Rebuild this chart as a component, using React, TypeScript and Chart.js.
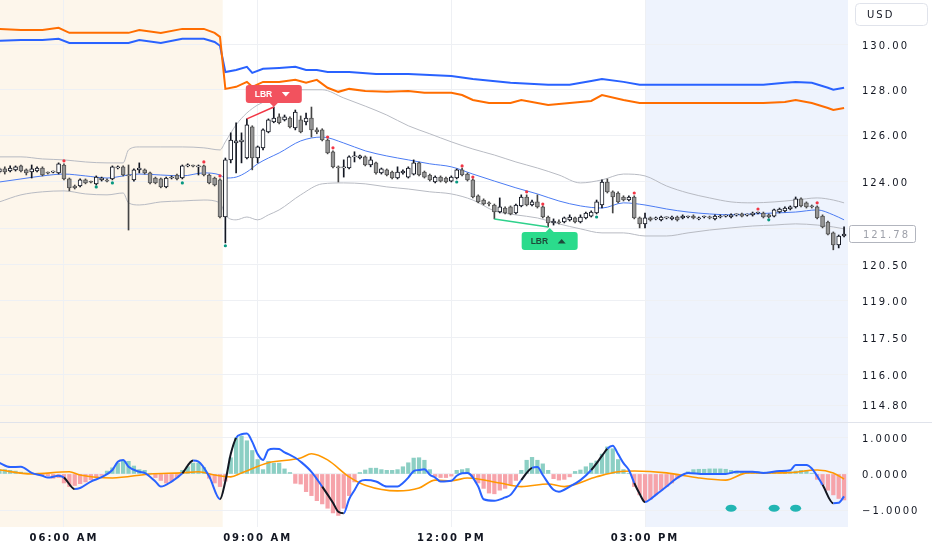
import React, { useEffect, useRef } from 'react';
import { Chart, registerables } from 'chart.js';

Chart.register(...registerables);

// ---------------- data ----------------
const timeTickIndex = [12, 48, 84, 120];
const timeTickLabels = ['06:00 AM', '09:00 AM', '12:00 PM', '03:00 PM'];
const priceTicks = [130, 128, 126, 124, 122, 120.5, 119, 117.5, 116, 114.8];
const macdTicks = [1, 0, -1];

// 5-minute candles, 05:00 -> 18:05
const opens = [
  124.42, 124.55, 124.46, 124.51, 124.68, 124.51, 124.42, 124.46, 124.59, 124.38,
  124.41, 124.38, 124.72, 124.12, 123.82, 123.82, 124.08, 123.99, 123.91, 124.08,
  124.04, 124.12, 124.59, 124.64, 124.29, 124.08, 124.51, 124.51, 124.38, 124.16,
  124.12, 123.78, 124.16, 124.29, 124.16, 124.68, 124.68, 124.64, 124.68, 124.29,
  124.16, 124.08, 122.50, 124.94, 125.67, 125.72, 125.02, 126.37, 125.02, 125.46,
  126.15, 126.59, 126.81, 126.68, 126.76, 126.33, 126.68, 126.59, 126.76, 126.24,
  126.24, 125.80, 125.29, 124.64, 124.59, 124.59, 125.07, 125.02, 125.07, 124.72,
  124.81, 124.38, 124.51, 124.42, 124.16, 124.38, 124.20, 124.33, 124.81, 124.42,
  124.29, 123.99, 124.20, 124.16, 124.03, 124.16, 124.51, 124.33, 124.08, 123.40,
  123.22, 123.10, 123.01, 122.71, 122.88, 122.93, 122.67, 122.97, 123.35, 123.01,
  123.14, 122.93, 122.50, 122.25, 122.29, 122.29, 122.38, 122.46, 122.29, 122.46,
  122.54, 122.67, 123.01, 123.99, 123.57, 123.52, 123.35, 123.22, 123.35, 122.46,
  122.21, 122.46, 122.42, 122.38, 122.46, 122.42, 122.50, 122.46, 122.50, 122.54,
  122.42, 122.50, 122.50, 122.42, 122.50, 122.54, 122.50, 122.59, 122.63, 122.58,
  122.59, 122.67, 122.67, 122.59, 122.54, 122.71, 122.76, 122.84, 122.93, 123.27,
  123.10, 122.97, 122.93, 122.54, 122.29, 121.83, 121.33, 121.70,
];
const highs = [
  124.59, 124.64, 124.68, 124.68, 124.72, 124.55, 124.72, 124.64, 124.64, 124.42,
  124.46, 124.81, 124.77, 124.16, 123.86, 124.12, 124.12, 124.03, 124.25, 124.20,
  124.12, 124.68, 124.68, 124.68, 124.72, 124.55, 124.81, 124.55, 124.42, 124.20,
  124.16, 124.20, 124.25, 124.33, 124.72, 124.77, 124.72, 124.72, 124.72, 124.33,
  124.20, 124.12, 125.02, 126.11, 126.55, 126.11, 126.72, 126.42, 125.54, 126.29,
  126.72, 127.24, 126.94, 126.89, 126.81, 127.11, 126.85, 126.98, 127.24, 126.33,
  126.29, 125.85, 125.33, 124.68, 124.94, 125.11, 125.29, 125.15, 125.11, 125.07,
  124.85, 124.59, 124.55, 124.46, 124.64, 124.51, 124.64, 124.94, 124.85, 124.46,
  124.33, 124.25, 124.25, 124.20, 124.25, 124.55, 124.59, 124.38, 124.12, 123.44,
  123.27, 123.14, 123.05, 123.31, 122.93, 122.97, 123.05, 123.44, 123.44, 123.22,
  123.44, 122.97, 122.54, 122.42, 122.38, 122.50, 122.59, 122.50, 122.59, 122.71,
  122.76, 123.22, 124.08, 124.12, 123.61, 123.57, 123.40, 123.40, 123.40, 122.50,
  122.67, 122.50, 122.50, 122.54, 122.50, 122.54, 122.54, 122.59, 122.54, 122.59,
  122.50, 122.54, 122.54, 122.59, 122.59, 122.59, 122.63, 122.63, 122.67, 122.63,
  122.71, 122.71, 122.71, 122.63, 122.84, 122.88, 122.93, 122.97, 123.35, 123.31,
  123.14, 123.01, 122.97, 122.59, 122.33, 121.87, 121.74, 122.08,
];
const lows = [
  124.38, 124.33, 124.42, 124.46, 124.42, 124.29, 124.16, 124.42, 124.25, 124.33,
  124.38, 124.33, 124.08, 123.61, 123.69, 123.78, 123.91, 123.95, 123.86, 124.03,
  123.99, 124.08, 124.55, 124.25, 121.95, 124.03, 124.38, 124.33, 123.91, 123.91,
  123.74, 123.74, 124.12, 124.08, 124.12, 124.64, 124.64, 124.29, 124.25, 123.91,
  123.82, 122.46, 121.41, 124.81, 124.38, 124.81, 124.98, 124.51, 124.81, 125.37,
  126.11, 126.55, 126.50, 126.63, 126.33, 126.24, 126.11, 126.46, 125.93, 126.07,
  125.76, 125.20, 124.59, 123.99, 124.20, 124.55, 124.85, 124.98, 124.68, 124.64,
  124.33, 124.33, 124.25, 124.12, 124.12, 124.33, 124.16, 124.29, 124.25, 124.16,
  124.03, 123.95, 123.99, 123.95, 123.99, 124.12, 124.25, 124.03, 123.31, 123.10,
  123.01, 122.97, 122.42, 122.67, 122.63, 122.59, 122.63, 122.93, 122.97, 122.97,
  122.88, 122.46, 122.08, 122.16, 122.21, 122.25, 122.33, 122.25, 122.25, 122.42,
  122.50, 122.63, 122.88, 123.52, 122.67, 123.10, 123.18, 123.18, 122.42, 122.04,
  122.04, 122.33, 122.38, 122.33, 122.42, 122.38, 122.33, 122.42, 122.46, 122.42,
  122.38, 122.46, 122.42, 122.38, 122.46, 122.50, 122.46, 122.54, 122.50, 122.54,
  122.54, 122.63, 122.46, 122.46, 122.50, 122.67, 122.71, 122.80, 122.88, 122.93,
  122.88, 122.88, 122.42, 122.04, 121.74, 121.12, 121.20, 121.66,
];
const closes = [
  124.55, 124.42, 124.59, 124.64, 124.46, 124.38, 124.55, 124.59, 124.29, 124.37,
  124.42, 124.77, 124.12, 123.74, 123.74, 124.08, 123.95, 123.98, 124.20, 124.16,
  124.03, 124.64, 124.64, 124.29, 124.25, 124.51, 124.59, 124.38, 123.95, 123.95,
  123.78, 124.16, 124.20, 124.12, 124.68, 124.72, 124.67, 124.68, 124.29, 123.95,
  123.86, 122.50, 124.94, 125.80, 125.76, 125.80, 126.46, 125.02, 125.50, 126.24,
  126.68, 126.76, 126.55, 126.81, 126.37, 127.02, 126.15, 126.76, 126.24, 126.15,
  125.80, 125.24, 124.64, 124.59, 124.64, 125.07, 125.11, 125.11, 124.72, 124.94,
  124.38, 124.55, 124.29, 124.16, 124.42, 124.46, 124.59, 124.81, 124.29, 124.20,
  124.08, 124.20, 124.03, 123.99, 124.20, 124.51, 124.29, 124.08, 123.35, 123.14,
  123.05, 123.05, 122.71, 122.93, 122.67, 122.63, 123.01, 123.35, 123.01, 123.14,
  122.93, 122.50, 122.25, 122.33, 122.25, 122.46, 122.50, 122.29, 122.50, 122.67,
  122.71, 123.14, 123.99, 123.57, 123.35, 123.14, 123.22, 123.35, 122.46, 122.21,
  122.46, 122.38, 122.46, 122.50, 122.47, 122.50, 122.38, 122.54, 122.51, 122.46,
  122.46, 122.51, 122.46, 122.54, 122.54, 122.55, 122.59, 122.60, 122.54, 122.59,
  122.67, 122.68, 122.50, 122.50, 122.80, 122.84, 122.88, 122.93, 123.27, 122.97,
  122.93, 122.93, 122.46, 122.08, 121.78, 121.33, 121.70, 121.78,
];

// Bollinger-type bands (sampled at bar indices)
const bandIdx = [0, 4, 8, 12, 16, 20, 23, 24, 26, 30, 34, 38, 41, 42, 44, 46, 48, 50, 52, 56, 60, 64, 68, 72, 76, 80, 84, 88, 92, 96, 100, 104, 108, 112, 116, 120, 124, 128, 132, 136, 140, 144, 148, 152, 155, 157];
const upperBand = [125.07, 125.07, 124.98, 124.94, 124.85, 124.81, 124.81, 125.37, 125.50, 125.50, 125.50, 125.46, 125.37, 125.72, 126.46, 126.98, 127.33, 127.55, 127.77, 128.00, 128.00, 127.64, 127.28, 126.89, 126.42, 126.07, 125.72, 125.41, 125.15, 124.85, 124.59, 124.29, 123.95, 124.08, 124.33, 124.25, 123.82, 123.52, 123.31, 123.14, 123.10, 123.14, 123.22, 123.31, 123.22, 123.10];
const middleBand = [123.99, 124.12, 124.25, 124.33, 124.25, 124.16, 124.25, 124.29, 124.33, 124.29, 124.25, 124.38, 124.29, 124.16, 124.20, 124.42, 124.77, 125.02, 125.24, 125.76, 125.93, 125.67, 125.33, 125.11, 124.94, 124.77, 124.64, 124.33, 124.03, 123.74, 123.48, 123.18, 122.97, 122.88, 123.10, 123.01, 122.84, 122.71, 122.63, 122.59, 122.63, 122.67, 122.71, 122.80, 122.59, 122.38];
const lowerBand = [123.14, 123.44, 123.57, 123.61, 123.48, 123.44, 123.52, 123.10, 123.01, 123.14, 123.18, 123.22, 123.10, 122.59, 122.38, 122.50, 122.38, 122.59, 122.80, 123.44, 123.91, 123.95, 123.91, 123.78, 123.69, 123.57, 123.48, 123.22, 122.76, 122.59, 122.46, 122.21, 122.00, 121.83, 121.83, 121.70, 121.70, 121.83, 121.95, 122.04, 122.12, 122.16, 122.21, 122.16, 122.08, 122.00];

// upper orange / blue indicator lines
const orangeIdx = [0, 4, 8, 11, 13, 16, 20, 24, 26, 30, 34, 38, 40, 41, 42, 44, 46, 47, 49, 52, 55, 57, 59, 61, 63, 65, 68, 72, 76, 79, 84, 86, 88, 91, 95, 97, 102, 106, 110, 112, 116, 119, 124, 130, 136, 142, 146, 148, 151, 154, 155, 157];
const orangeLine = [130.72, 130.67, 130.67, 130.77, 130.54, 130.54, 130.54, 130.54, 130.67, 130.54, 130.72, 130.72, 130.54, 130.36, 128.04, 128.13, 128.35, 128.13, 128.35, 128.35, 128.44, 128.31, 128.44, 128.09, 127.91, 128.04, 127.95, 127.91, 127.95, 127.87, 127.87, 127.77, 127.55, 127.42, 127.42, 127.55, 127.33, 127.42, 127.51, 127.77, 127.55, 127.42, 127.42, 127.42, 127.42, 127.42, 127.46, 127.55, 127.42, 127.20, 127.11, 127.20];
const blueIdx = [0, 4, 8, 11, 13, 16, 20, 24, 26, 30, 34, 38, 40, 41, 42, 44, 46, 47, 49, 52, 55, 57, 59, 61, 65, 70, 76, 84, 88, 95, 102, 106, 110, 112, 116, 119, 124, 130, 136, 142, 146, 148, 151, 154, 155, 157];
const blueLine = [130.18, 130.22, 130.22, 130.27, 130.09, 130.09, 130.09, 130.09, 130.22, 130.09, 130.27, 130.27, 130.13, 129.96, 128.79, 128.88, 129.02, 128.75, 128.93, 128.97, 129.02, 128.88, 128.88, 128.79, 128.79, 128.70, 128.70, 128.61, 128.48, 128.31, 128.22, 128.22, 128.39, 128.48, 128.35, 128.22, 128.22, 128.22, 128.22, 128.22, 128.31, 128.35, 128.31, 128.09, 128.00, 128.09];

// small signal dots
const redMarkIdx = [12, 38, 41, 61, 62, 86, 88, 98, 101, 118, 141, 152];
const redMarkPrice = [124.90, 124.85, 124.25, 125.93, 125.46, 124.68, 124.20, 123.57, 123.05, 123.52, 122.84, 123.10];
const greenMarkIdx = [18, 21, 34, 42, 85, 111, 143];
const greenMarkPrice = [123.78, 123.95, 123.95, 121.29, 123.99, 122.50, 122.38];

// LBR divergence annotations
const lbrBearIdx = [46, 51];
const lbrBearPrice = [126.72, 127.24];
const lbrBullIdx = [92, 102];
const lbrBullPrice = [122.42, 122.08];

// MACD pane
const histogram = [
  0.12, 0.12, 0.10, 0.08, 0.05, 0.03, 0.02, 0.02, -0.02, -0.05,
  -0.12, -0.10, -0.25, -0.35, -0.32, -0.27, -0.22, -0.16, -0.10, -0.04,
  0.08, 0.17, 0.30, 0.37, 0.35, 0.22, 0.12, 0.10, 0.02, -0.10,
  -0.18, -0.25, -0.20, -0.10, 0.10, 0.20, 0.30, 0.30, 0.18, -0.12,
  -0.25, -0.35, -0.20, 0.45, 1.00, 1.05, 0.92, 0.65, 0.40, 0.12,
  0.35, 0.30, 0.30, 0.14, 0.04, -0.26, -0.28, -0.49, -0.60, -0.74,
  -0.83, -0.95, -1.08, -1.15, -0.95, -0.60, -0.22, 0.04, 0.11, 0.16,
  0.16, 0.12, 0.10, 0.10, 0.12, 0.20, 0.31, 0.44, 0.45, 0.38,
  0.12, -0.07, -0.10, -0.10, -0.06, 0.10, 0.12, 0.15, -0.10, -0.25,
  -0.40, -0.53, -0.55, -0.45, -0.40, -0.30, -0.18, 0.10, 0.38, 0.46,
  0.38, 0.28, 0.10, -0.13, -0.17, -0.15, -0.08, 0.07, 0.11, 0.20,
  0.30, 0.36, 0.55, 0.75, 0.70, 0.40, 0.12, 0.02, -0.35, -0.58,
  -0.76, -0.70, -0.58, -0.45, -0.35, -0.25, -0.12, -0.05, 0.06, 0.12,
  0.13, 0.13, 0.14, 0.14, 0.14, 0.13, 0.10, 0.08, 0.06, 0.06,
  0.06, 0.06, 0.05, 0.05, 0.06, 0.06, 0.07, 0.06, 0.08, 0.10,
  0.10, 0.02, -0.15, -0.30, -0.45, -0.58, -0.68, -0.72,
];
const macdIdx = [0, 2, 4, 6, 8, 9, 11, 12, 14, 15, 17, 19, 21, 22, 23, 24, 26, 27, 29, 30, 32, 34, 36, 37, 39, 41, 42, 43, 44, 45, 46, 47, 48, 49, 50, 51, 52, 53, 54, 55, 56, 58, 60, 62, 63, 64, 65, 66, 67, 68, 70, 72, 74, 75, 76, 77, 78, 79, 80, 81, 82, 84, 85, 86, 87, 89, 90, 92, 94, 95, 97, 99, 100, 101, 103, 104, 106, 108, 110, 112, 113, 114, 115, 116, 117, 118, 119, 120, 121, 122, 124, 126, 128, 131, 135, 137, 140, 142, 145, 147, 148, 150, 151, 153, 155, 156, 157];
const macdLine = [0.31, 0.19, 0.20, 0.03, -0.05, -0.10, -0.05, -0.10, -0.42, -0.39, -0.21, -0.09, 0.11, 0.34, 0.39, 0.20, 0.06, 0.03, -0.21, -0.35, -0.21, 0.02, 0.37, 0.34, -0.07, -0.70, -0.20, 0.55, 1.00, 1.10, 1.12, 0.89, 0.55, 0.39, 0.67, 0.70, 0.69, 0.60, 0.53, 0.45, 0.34, 0.06, -0.35, -0.80, -1.05, -1.09, -0.70, -0.45, -0.21, -0.17, -0.21, -0.35, -0.35, -0.25, -0.10, 0.08, 0.11, 0.13, -0.02, -0.10, -0.21, -0.19, -0.05, 0.02, 0.03, -0.35, -0.70, -0.74, -0.65, -0.58, -0.17, 0.17, 0.19, -0.03, -0.44, -0.49, -0.35, -0.17, 0.11, 0.50, 0.70, 0.78, 0.55, 0.30, 0.11, -0.25, -0.55, -0.78, -0.70, -0.58, -0.35, -0.11, 0.03, 0.00, 0.00, 0.06, 0.06, 0.03, 0.08, 0.10, 0.25, 0.25, 0.15, -0.30, -0.81, -0.80, -0.62];
const signalIdx = [0, 6, 13, 15, 21, 28, 34, 37, 40, 43, 45, 50, 56, 58, 61, 65, 68, 74, 78, 81, 84, 87, 93, 97, 102, 105, 111, 115, 118, 124, 130, 135, 139, 146, 152, 155, 157];
const signalLine = [0.11, 0.0, 0.06, -0.03, -0.11, 0.0, 0.03, 0.06, -0.03, -0.08, 0.03, 0.31, 0.44, 0.56, 0.39, -0.08, -0.31, -0.47, -0.39, -0.17, -0.19, -0.11, -0.25, -0.35, -0.28, -0.35, -0.08, 0.06, 0.08, 0.03, -0.11, -0.17, 0.03, 0.03, 0.11, 0.03, -0.14];
const macdBlackRanges = [[12, 14], [34, 36], [41, 44], [60, 64], [97, 99], [110, 113], [118, 120], [153, 155]];
const macdDotIdx = [136, 144, 148];
const macdDotValue = [-0.95, -0.95, -0.95];

// ---------------- styling constants ----------------
const preMarketEnd = 41.5;
const postMarketStart = 120;
const xMin = 0.11;
const xMax = 157.73;
const priceMin = 114.13;
const priceMax = 132.03;
const macdMin = -1.47;
const macdMax = 1.44;
const gridColor = '#eef0f4';
const textColor = '#131722';
const FONT = "'DejaVu Sans', sans-serif";

const pts = (ix: number[], vals: number[]) => ix.map((x, k) => ({ x, y: vals[k] }));

export default function App() {
  const ref = useRef<HTMLCanvasElement | null>(null);

  useEffect(() => {
    document.body.style.margin = '0';
    const canvas = ref.current;
    if (!canvas) return;

    const idx = opens.map((_, i) => i);
    const isUp = idx.map((i) => closes[i] > opens[i]);
    const bodyData = idx.map((i) => ({ x: i, y: [opens[i], closes[i]] }));
    const wickData = idx.map((i) => ({ x: i, y: [lows[i], highs[i]] }));
    const histData = idx.map((i) => ({ x: i, y: histogram[i] }));

    const drawLbr = (ctx: any, cx: number, tipY: number, bear: boolean) => {
      const w = 56;
      const h = 18;
      const top = bear ? tipY - 4 - h : tipY + 5;
      ctx.save();
      ctx.letterSpacing = '0px';
      ctx.fillStyle = bear ? '#f2525e' : '#2bdb8c';
      ctx.beginPath();
      ctx.roundRect(cx - w / 2, top, w, h, 3);
      ctx.fill();
      ctx.beginPath();
      if (bear) {
        ctx.moveTo(cx - 4, top + h);
        ctx.lineTo(cx + 4, top + h);
        ctx.lineTo(cx, top + h + 4);
      } else {
        ctx.moveTo(cx - 4, top);
        ctx.lineTo(cx + 4, top);
        ctx.lineTo(cx, top - 4);
      }
      ctx.closePath();
      ctx.fill();
      const tc = bear ? '#ffffff' : '#1d4a3a';
      ctx.fillStyle = tc;
      ctx.font = `bold 8.5px 'Liberation Sans', sans-serif`;
      ctx.textAlign = 'left';
      ctx.textBaseline = 'middle';
      ctx.fillText('LBR', cx - 19, top + h / 2 + 0.5);
      const tx = cx + 12;
      const ty = top + h / 2;
      ctx.beginPath();
      if (bear) {
        ctx.moveTo(tx - 4, ty - 2);
        ctx.lineTo(tx + 4, ty - 2);
        ctx.lineTo(tx, ty + 2.5);
      } else {
        ctx.moveTo(tx - 4, ty + 2.5);
        ctx.lineTo(tx + 4, ty + 2.5);
        ctx.lineTo(tx, ty - 2);
      }
      ctx.closePath();
      ctx.fill();
      ctx.restore();
    };

    const decor = {
      id: 'decor',
      beforeDraw(chart: any) {
        const { ctx, chartArea: a, scales } = chart;
        const sx = scales.x;
        ctx.save();
        const preX = sx.getPixelForValue(preMarketEnd);
        ctx.fillStyle = '#fdf6eb';
        ctx.fillRect(a.left, a.top, preX - a.left, a.bottom - a.top);
        const postX = sx.getPixelForValue(postMarketStart);
        ctx.fillStyle = '#eef3fd';
        ctx.fillRect(postX, a.top, a.right - postX, a.bottom - a.top);
        ctx.restore();
        ctx.letterSpacing = '2px';
      },
      afterDatasetsDraw(chart: any) {
        const { ctx, scales } = chart;
        const sx = scales.x;
        const sy = scales.y;
        const s2 = scales.y2;
        ctx.save();
        ctx.fillStyle = '#22b5b3';
        macdDotIdx.forEach((i, k) => {
          ctx.beginPath();
          ctx.ellipse(sx.getPixelForValue(i), s2.getPixelForValue(macdDotValue[k]), 5.5, 3.5, 0, 0, Math.PI * 2);
          ctx.fill();
        });
        ctx.lineWidth = 1.5;
        ctx.strokeStyle = '#f23645';
        ctx.beginPath();
        ctx.moveTo(sx.getPixelForValue(lbrBearIdx[0]), sy.getPixelForValue(lbrBearPrice[0]));
        ctx.lineTo(sx.getPixelForValue(lbrBearIdx[1]), sy.getPixelForValue(lbrBearPrice[1]));
        ctx.stroke();
        ctx.strokeStyle = '#2ed18c';
        ctx.beginPath();
        ctx.moveTo(sx.getPixelForValue(lbrBullIdx[0]), sy.getPixelForValue(lbrBullPrice[0]));
        ctx.lineTo(sx.getPixelForValue(lbrBullIdx[1]), sy.getPixelForValue(lbrBullPrice[1]));
        ctx.stroke();
        ctx.restore();
        drawLbr(ctx, sx.getPixelForValue(lbrBearIdx[1]), sy.getPixelForValue(lbrBearPrice[1]), true);
        drawLbr(ctx, sx.getPixelForValue(lbrBullIdx[1]) + 1.5, sy.getPixelForValue(lbrBullPrice[1]), false);
      },
      afterDraw(chart: any) {
        const { ctx, scales, width } = chart;
        const sy = scales.y;
        ctx.save();
        ctx.strokeStyle = '#e0e3eb';
        ctx.lineWidth = 1;
        ctx.beginPath();
        ctx.moveTo(0, Math.round(sy.bottom) + 0.5);
        ctx.lineTo(width, Math.round(sy.bottom) + 0.5);
        ctx.stroke();
        ctx.letterSpacing = '2px';
        ctx.font = `10px ${FONT}`;
        ctx.textBaseline = 'middle';
        ctx.textAlign = 'left';
        const last = closes[closes.length - 1];
        const py = Math.round(sy.getPixelForValue(last));
        ctx.fillStyle = '#ffffff';
        ctx.strokeStyle = '#b2b5be';
        ctx.beginPath();
        ctx.roundRect(sy.left + 1.5, py - 8.5, 66, 17, 2);
        ctx.fill();
        ctx.stroke();
        ctx.fillStyle = '#9ea1aa';
        ctx.fillText(last.toFixed(2), sy.left + 15, py + 1);
        ctx.strokeStyle = '#e0e3eb';
        ctx.fillStyle = '#ffffff';
        ctx.beginPath();
        ctx.roundRect(sy.left + 7.5, 3.5, 72, 22, 4);
        ctx.fill();
        ctx.stroke();
        ctx.fillStyle = textColor;
        ctx.fillText('USD', sy.left + 19, 15);
        ctx.restore();
        ctx.letterSpacing = '0px';
      },
    };

    const chart = new Chart(canvas, {
      type: 'bar',
      data: {
        datasets: [
          {
            type: 'line',
            data: pts(redMarkIdx, redMarkPrice),
            yAxisID: 'y',
            showLine: false,
            pointRadius: 1.6,
            pointBorderWidth: 0,
            pointBackgroundColor: '#f23645',
            order: 0,
          } as any,
          {
            type: 'line',
            data: pts(greenMarkIdx, greenMarkPrice),
            yAxisID: 'y',
            showLine: false,
            pointRadius: 1.6,
            pointBorderWidth: 0,
            pointBackgroundColor: '#089981',
            order: 0,
          } as any,
          {
            type: 'bar',
            data: bodyData,
            yAxisID: 'y',
            grouped: false,
            barThickness: 4,
            minBarLength: 1,
            borderWidth: 1,
            borderSkipped: false,
            backgroundColor: isUp.map((u) => (u ? '#ffffff' : '#969696')),
            borderColor: isUp.map((u) => (u ? '#131722' : '#555555')),
            order: 1,
          } as any,
          {
            type: 'bar',
            data: wickData,
            yAxisID: 'y',
            grouped: false,
            barThickness: 1,
            borderWidth: 0,
            backgroundColor: isUp.map((u) => (u ? '#131722' : '#444444')),
            order: 2,
          } as any,
          {
            type: 'line',
            data: pts(orangeIdx, orangeLine),
            yAxisID: 'y',
            borderColor: '#ff6d00',
            borderWidth: 2,
            pointRadius: 0,
            tension: 0,
            order: 3,
          } as any,
          {
            type: 'line',
            data: pts(blueIdx, blueLine),
            yAxisID: 'y',
            borderColor: '#2962ff',
            borderWidth: 2,
            pointRadius: 0,
            tension: 0,
            order: 3,
          } as any,
          {
            type: 'line',
            data: pts(bandIdx, middleBand),
            yAxisID: 'y',
            borderColor: '#4c7cf3',
            borderWidth: 1,
            pointRadius: 0,
            cubicInterpolationMode: 'monotone',
            order: 4,
          } as any,
          {
            type: 'line',
            data: pts(bandIdx, upperBand),
            yAxisID: 'y',
            borderColor: '#b8bbc3',
            borderWidth: 1,
            pointRadius: 0,
            cubicInterpolationMode: 'monotone',
            order: 5,
          } as any,
          {
            type: 'line',
            data: pts(bandIdx, lowerBand),
            yAxisID: 'y',
            borderColor: '#b8bbc3',
            borderWidth: 1,
            pointRadius: 0,
            cubicInterpolationMode: 'monotone',
            order: 5,
          } as any,
          {
            type: 'line',
            data: pts(macdIdx, macdLine),
            yAxisID: 'y2',
            borderColor: '#2962ff',
            borderWidth: 2,
            pointRadius: 0,
            cubicInterpolationMode: 'monotone',
            segment: {
              borderColor: (c: any) =>
                macdBlackRanges.some(([a, b]) => c.p0.parsed.x >= a && c.p1.parsed.x <= b) ? '#131722' : '#2962ff',
            },
            order: 6,
          } as any,
          {
            type: 'line',
            data: pts(signalIdx, signalLine),
            yAxisID: 'y2',
            borderColor: '#ff9800',
            borderWidth: 1.6,
            pointRadius: 0,
            cubicInterpolationMode: 'monotone',
            order: 7,
          } as any,
          {
            type: 'bar',
            data: histData,
            yAxisID: 'y2',
            grouped: false,
            barThickness: 3.6,
            borderWidth: 0,
            backgroundColor: histogram.map((v) => (v >= 0 ? '#8ccfc4' : '#f6a3aa')),
            order: 8,
          } as any,
        ],
      },
      options: {
        responsive: false,
        animation: false,
        events: [],
        layout: { padding: 0, autoPadding: false },
        font: { family: FONT },
        plugins: { legend: { display: false }, tooltip: { enabled: false } },
        scales: {
          x: {
            type: 'linear',
            min: xMin,
            max: xMax,
            bounds: 'data',
            offset: false,
            grid: { color: gridColor, drawTicks: false, offset: false },
            border: { display: false },
            ticks: {
              autoSkip: false,
              maxRotation: 0,
              padding: 5,
              color: textColor,
              font: { family: FONT, size: 10, weight: 'bold' },
              callback: (v: any) => {
                const k = timeTickIndex.indexOf(Number(v));
                return k >= 0 ? timeTickLabels[k] : '';
              },
            },
            afterBuildTicks: (s: any) => {
              s.ticks = timeTickIndex.map((v) => ({ value: v }));
            },
            afterFit: (s: any) => {
              s.height = 23;
              s.paddingLeft = 0;
              s.paddingRight = 0;
            },
          },
          y: {
            type: 'logarithmic',
            position: 'right',
            stack: 'panes',
            stackWeight: 422,
            min: priceMin,
            max: priceMax,
            bounds: 'data',
            grid: { color: gridColor, drawTicks: false },
            border: { display: false },
            ticks: {
              autoSkip: false,
              padding: 14,
              labelOffset: 1.5,
              color: textColor,
              font: { family: FONT, size: 10 },
              callback: (v: any) => Number(v).toFixed(2),
            },
            afterBuildTicks: (s: any) => {
              s.ticks = priceTicks.map((v) => ({ value: v }));
            },
            afterFit: (s: any) => {
              s.width = 84;
              s.paddingTop = 0;
              s.paddingBottom = 0;
            },
          },
          y2: {
            type: 'linear',
            position: 'right',
            stack: 'panes',
            stackWeight: 105,
            min: macdMin,
            max: macdMax,
            bounds: 'data',
            grid: { color: gridColor, drawTicks: false },
            border: { display: false },
            ticks: {
              autoSkip: false,
              padding: 14,
              labelOffset: 1.5,
              color: textColor,
              font: { family: FONT, size: 10 },
              callback: (v: any) => (Number(v) < 0 ? '\u2212' : '') + Math.abs(Number(v)).toFixed(4),
            },
            afterBuildTicks: (s: any) => {
              s.ticks = macdTicks.map((v) => ({ value: v }));
            },
            afterFit: (s: any) => {
              s.width = 84;
              s.paddingTop = 0;
              s.paddingBottom = 0;
            },
          },
        },
      } as any,
      plugins: [decor],
    } as any);

    return () => chart.destroy();
  }, []);

  return (
    <div style={{ width: 932, height: 550, background: '#ffffff' }}>
      <canvas ref={ref} width={932} height={550} style={{ display: 'block' }} />
    </div>
  );
}
